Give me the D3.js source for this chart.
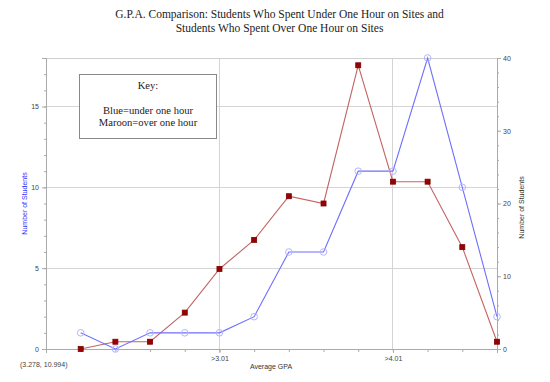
<!DOCTYPE html>
<html>
<head>
<meta charset="utf-8">
<script src="https://cdn.jsdelivr.net/npm/d3@7"></script>
<style>
  body { margin: 0; background: #fff; }
  svg { display: block; }
</style>
</head>
<body>
<svg id="chart" width="550" height="382"></svg>
<script>
// ---- data ----
const positions = [1, 2, 3, 4, 5, 6, 7, 8, 9, 10, 11, 12, 13];
const blueUnder = [1, 0, 1, 1, 1, 2, 6, 6, 11, 11, 18, 10, 2];      // left axis
const maroonOver = [0, 1, 1, 5, 11, 15, 21, 20, 39, 23, 23, 14, 1]; // right axis
const xTickPositions = [5, 10];
const xTickLabels = [">3.01", ">4.01"];
const leftTicks = [0, 5, 10, 15];
const rightTicks = [0, 10, 20, 30, 40];
const titleLines = ["G.P.A. Comparison: Students Who Spent Under One Hour on Sites and",
                    "Students Who Spent Over One Hour on Sites"];
const keyLines = ["Key:", "Blue=under one hour", "Maroon=over one hour"];

// ---- layout ----
const L = 46, R = 497, T = 58, B = 349;
const svg = d3.select("#chart");
const x = d3.scaleLinear().domain([0, 13]).range([L, R]);
const yL = d3.scaleLinear().domain([0, 18]).range([B, T]);
const yR = d3.scaleLinear().domain([0, 40]).range([B, T]);
const sans = "'Liberation Sans', Arial, sans-serif";
const serif = "'Liberation Serif', 'Times New Roman', serif";

// gridlines
const grid = svg.append("g");
grid.selectAll("line.h").data(leftTicks.filter(d => d > 0)).join("line")
  .attr("x1", L).attr("x2", R).attr("y1", d => yL(d)).attr("y2", d => yL(d))
  .attr("stroke", "#d4d4d4").attr("stroke-width", 1).attr("shape-rendering", "crispEdges");
grid.selectAll("line.v").data(xTickPositions).join("line")
  .attr("x1", d => x(d)).attr("x2", d => x(d)).attr("y1", T).attr("y2", B)
  .attr("stroke", "#d4d4d4").attr("stroke-width", 1).attr("shape-rendering", "crispEdges");
// top border
svg.append("line").attr("x1", L).attr("x2", R).attr("y1", T).attr("y2", T)
  .attr("stroke", "#cfcfcf").attr("shape-rendering", "crispEdges");

// axes
function styleAxis(g) {
  g.select(".domain").attr("stroke", "#aaa");
  g.selectAll(".tick line").attr("stroke", "#aaa");
  g.selectAll(".tick text").attr("fill", "#444").style("font-family", sans).style("font-size", "7px");
}
// minor ticks
const gLminor = svg.append("g").attr("transform", `translate(${L},0)`)
  .call(d3.axisLeft(yL).tickValues(d3.range(0, 19, 1)).tickSize(2).tickFormat(""));
styleAxis(gLminor);
const gL = svg.append("g").attr("transform", `translate(${L},0)`)
  .call(d3.axisLeft(yL).tickValues(leftTicks).tickSize(4).tickPadding(3));
styleAxis(gL);

const gRminor = svg.append("g").attr("transform", `translate(${R},0)`)
  .call(d3.axisRight(yR).tickValues(d3.range(0, 41, 2)).tickSize(2).tickFormat(""));
styleAxis(gRminor);
const gR = svg.append("g").attr("transform", `translate(${R},0)`)
  .call(d3.axisRight(yR).tickValues(rightTicks).tickSize(4).tickPadding(2));
styleAxis(gR);

const gXminor = svg.append("g").attr("transform", `translate(0,${B})`)
  .call(d3.axisBottom(x).tickValues(d3.range(0, 14, 1)).tickSize(3).tickFormat(""));
styleAxis(gXminor);
const gX = svg.append("g").attr("transform", `translate(0,${B})`)
  .call(d3.axisBottom(x).tickValues(xTickPositions).tickSize(4).tickPadding(3)
    .tickFormat((d, i) => xTickLabels[i]));
styleAxis(gX);

// lines
const blueData = positions.map((p, i) => [p, blueUnder[i]]);
const maroonData = positions.map((p, i) => [p, maroonOver[i]]);
svg.append("path").datum(maroonData)
  .attr("d", d3.line().x(d => x(d[0])).y(d => yR(d[1])))
  .attr("fill", "none").attr("stroke", "#c46464").attr("stroke-width", 1.1);
svg.append("path").datum(blueData)
  .attr("d", d3.line().x(d => x(d[0])).y(d => yL(d[1])))
  .attr("fill", "none").attr("stroke", "#6f6fff").attr("stroke-width", 1.1);

// markers
svg.append("g").selectAll("circle").data(blueData).join("circle")
  .attr("cx", d => x(d[0])).attr("cy", d => yL(d[1])).attr("r", 3.3)
  .attr("fill", "none").attr("stroke", "#b4b4ff").attr("stroke-width", 1);
const sq = 5;
svg.append("g").selectAll("rect").data(maroonData).join("rect")
  .attr("x", d => x(d[0]) - sq / 2).attr("y", d => yR(d[1]) - sq / 2)
  .attr("width", sq).attr("height", sq)
  .attr("fill", "#990000").attr("stroke", "#7a0000").attr("stroke-width", 0.8);

// key box
const key = svg.append("g");
key.append("rect").attr("x", 79.5).attr("y", 74.5).attr("width", 137).attr("height", 64)
  .attr("fill", "#fff").attr("stroke", "#888");
key.selectAll("text").data(keyLines).join("text")
  .attr("x", 148).attr("y", (d, i) => i === 0 ? 89 : 113.5 + (i - 1) * 12.4)
  .attr("text-anchor", "middle").style("font-family", serif).style("font-size", "10.6px")
  .attr("fill", "#222").text(d => d);

// title
svg.append("g").selectAll("text").data(titleLines).join("text")
  .attr("x", 279.5).attr("y", (d, i) => 17.5 + i * 14.5)
  .attr("text-anchor", "middle").style("font-family", serif).style("font-size", "11.5px")
  .attr("fill", "#222").text(d => d);

// axis titles
svg.append("text").attr("transform", `translate(26.5,${(T + B) / 2}) rotate(-90)`)
  .attr("text-anchor", "middle").style("font-family", sans).style("font-size", "7px")
  .attr("fill", "#3333ff").text("Number of Students");
svg.append("text").attr("transform", `translate(524,${(T + B) / 2 + 4}) rotate(-90)`)
  .attr("text-anchor", "middle").style("font-family", sans).style("font-size", "7px")
  .attr("fill", "#333").text("Number of Students");
svg.append("text").attr("x", 271).attr("y", 369)
  .attr("text-anchor", "middle").style("font-family", sans).style("font-size", "7px")
  .attr("fill", "#333").text("Average GPA");
svg.append("text").attr("x", 20).attr("y", 367)
  .style("font-family", sans).style("font-size", "7px")
  .attr("fill", "#444").text("(3.278, 10.994)");
</script>
</body>
</html>
